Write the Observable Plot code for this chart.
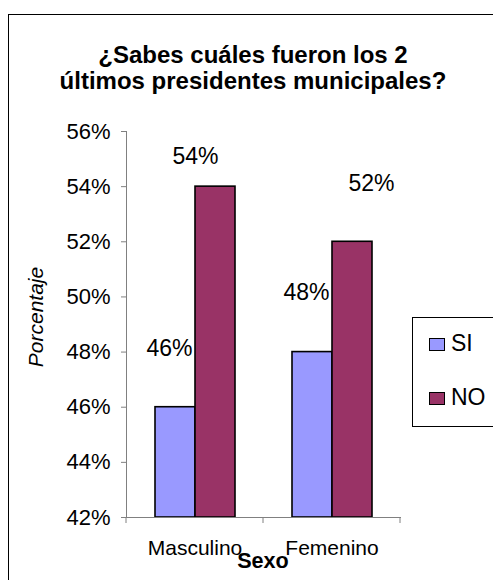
<!DOCTYPE html>
<html><head><meta charset="utf-8">
<script src="https://cdn.jsdelivr.net/npm/d3@7"></script>
<script src="https://cdn.jsdelivr.net/npm/@observablehq/plot@0.6"></script>
<style>
body{margin:0;width:493px;height:580px;overflow:hidden;position:relative;background:#fff;font-family:"Liberation Sans",Arial,sans-serif;color:#000}
#frame{position:absolute;left:8px;top:14px;width:540px;height:620px;border:1px solid #000;box-sizing:border-box}
#title{position:absolute;left:0;top:42px;width:506px;text-align:center;font-weight:bold;font-size:24px;line-height:26px}
#ylab{position:absolute;left:36px;top:317px;transform:translate(-50%,-50%) rotate(-90deg);font-style:italic;font-size:21px;white-space:nowrap}
#xlab{position:absolute;left:0;top:549.5px;width:526px;text-align:center;font-weight:bold;font-size:21.6px;line-height:22px}
#legend{position:absolute;left:412px;top:317px;width:110px;height:110px;border:1px solid #000;box-sizing:border-box;background:#fff}
.sw{position:absolute;width:16px;height:13px;border:1px solid #000;box-sizing:border-box}
.lt{position:absolute;font-size:23px;line-height:23px;white-space:nowrap}
#chart{position:absolute;left:0;top:0}
</style></head>
<body>
<div id="frame"></div>
<div id="title">¿Sabes cuáles fueron los 2<br>últimos presidentes municipales?</div>
<div id="chart"></div>
<div id="ylab">Porcentaje</div>
<div id="xlab">Sexo</div>
<div id="legend"></div>
<script>
const categories = ["Masculino", "Femenino"];
const series = ["SI", "NO"];
const siValues = [0.46, 0.48];
const noValues = [0.54, 0.52];
const yTicks = [0.42, 0.44, 0.46, 0.48, 0.50, 0.52, 0.54, 0.56];
const colors = ["#9999FF", "#993366"];

const data = [];
categories.forEach((c, i) => {
  data.push({sexo: c, serie: "SI", value: siValues[i]});
  data.push({sexo: c, serie: "NO", value: noValues[i]});
});
const pct = d3.format(".0%");

const plot = Plot.plot({
  width: 493,
  height: 580,
  marginLeft: 126,
  marginRight: 93,
  marginTop: 131,
  marginBottom: 63,
  style: {background: "transparent", fontFamily: "'Liberation Sans', Arial, sans-serif", overflow: "visible"},
  fx: {domain: categories, padding: 0, label: null},
  x: {domain: series, paddingInner: 0, paddingOuter: 0.7125, axis: null},
  y: {domain: [yTicks[0], yTicks[yTicks.length - 1]], clamp: true, label: null},
  color: {domain: series, range: colors},
  marks: [
    Plot.barY(data, {fx: "sexo", x: "serie", y: "value", fill: "serie", stroke: "#000", strokeWidth: 1.6}),
    Plot.frame({anchor: "left", facetAnchor: "left", stroke: "#808080"}),
    Plot.frame({anchor: "bottom", stroke: "#808080"}),
    Plot.axisY({ticks: yTicks, tickFormat: pct, tickSize: 5, tickPadding: 11, fontSize: 22, stroke: "#808080", fill: "#000", label: null}),
    Plot.axisFx({anchor: "bottom", tickSize: 0, tickPadding: 23, fontSize: 21, fill: "#000", label: null}),
    Plot.text(data.filter(d => d.serie === "SI"), {fx: "sexo", x: "serie", y: "value", text: d => pct(d.value), fontSize: 23, dx: -6, dy: -59, fill: "#000"}),
    Plot.text(data.filter(d => d.serie === "NO" && d.sexo === categories[0]), {fx: "sexo", x: "serie", y: "value", text: d => pct(d.value), fontSize: 23, dx: -20, dy: -30, fill: "#000"}),
    Plot.text(data.filter(d => d.serie === "NO" && d.sexo === categories[1]), {fx: "sexo", x: "serie", y: "value", text: d => pct(d.value), fontSize: 23, dx: 19, dy: -58, fill: "#000"})
  ]
});
document.getElementById("chart").appendChild(plot);

// category-boundary ticks on the x axis
const fx = plot.scale("fx");
const ys = plot.scale("y");
const y0 = ys.apply(yTicks[0]);
const bounds = categories.map(c => fx.apply(c));
bounds.push(fx.apply(categories[categories.length - 1]) + fx.bandwidth);
const svg = d3.select(plot);
svg.append("g").selectAll("line").data(bounds).join("line")
  .attr("x1", d => d).attr("x2", d => d)
  .attr("y1", y0).attr("y2", y0 + 6)
  .attr("stroke", "#808080");

// legend
const legend = document.getElementById("legend");
const tops = [337, 391];
series.forEach((s, i) => {
  const sw = document.createElement("div");
  sw.className = "sw";
  sw.style.left = (428 - 412) + "px";
  sw.style.top = (tops[i] - 317) + "px";
  sw.style.background = colors[i];
  legend.appendChild(sw);
  const t = document.createElement("div");
  t.className = "lt";
  t.style.left = (450 - 412) + "px";
  t.style.top = (tops[i] - 317 - 6) + "px";
  t.textContent = s;
  legend.appendChild(t);
});
</script>
</body></html>
